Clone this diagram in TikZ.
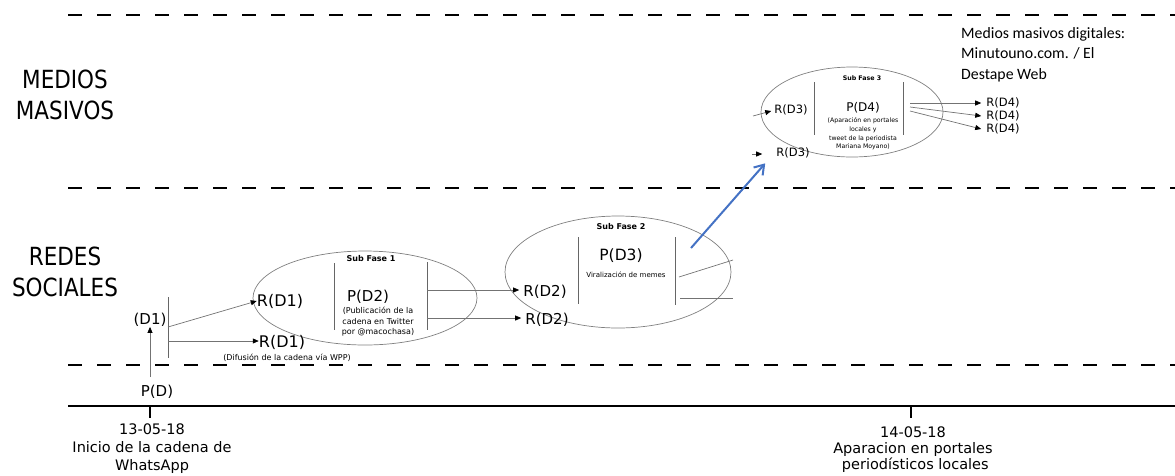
\documentclass[tikz,border=0pt]{standalone}
\usepackage{fontspec}
\setmainfont{DejaVu Sans}
\newfontfamily\condfont{DejaVu Sans}[FakeStretch=0.86]
\newfontfamily\calfont{Carlito}
\usetikzlibrary{arrows.meta,calc}
\definecolor{blueline}{HTML}{4472C4}
\begin{document}
\begin{tikzpicture}[x=1pt,y=-1pt,
  dashline/.style={line width=2.2pt, dash pattern=on 14pt off 15pt},
  timeline/.style={line width=1.8pt},
  thinline/.style={draw=black!55, line width=0.7pt},
  barline/.style={draw=black!60, line width=1pt},
  ell/.style={draw=black!50, line width=0.7pt},
  arr/.style={thinline, -{Triangle[length=6pt,width=5pt,color=black]}},
  big/.style={inner sep=0, align=center, font=\condfont\fontsize{25}{31}\selectfont},
  lbl/.style={inner sep=0, font=\fontsize{15}{17}\selectfont},
  lbls/.style={inner sep=0, font=\fontsize{11.5}{13}\selectfont},
  tiny/.style={inner sep=0, align=center, font=\fontsize{8}{10.5}\selectfont},
  phase/.style={inner sep=0, font=\bfseries\fontsize{8}{9}\selectfont},
  datelbl/.style={inner sep=0, align=center, font=\fontsize{14.5}{18}\selectfont},
]
\useasboundingbox (0,0) rectangle (1175,475);

% lanes
\draw[dashline] (68,15) -- (1175,15);
\draw[dashline] (68,188) -- (1175,188);
\draw[dashline] (68,365) -- (1175,365);
\draw[timeline] (68,406) -- (1175,406);
\draw[line width=1.4pt] (150,406) -- (150,418);
\draw[line width=1.4pt] (911,406) -- (911,418);

\node[big] (medios) at (65,95) {MEDIOS\\MASIVOS};
\node[big] (redes) at (65,272) {REDES\\SOCIALES};

% timeline labels
\node[datelbl] (d1) at (152,449) {13-05-18\\Inicio de la cadena de\\WhatsApp};
\node[datelbl, font=\fontsize{14.5}{16}\selectfont] (d2) at (913,450) {14-05-18\\Aparacion en portales\\\ periodísticos locales};

% start
\node[lbl] (pd) at (157,392) {P(D)};
\node[lbl] (d1n) at (150,320) {(D1)};
\coordinate (pdtop) at (150,377);
\draw[thinline, -{Triangle[length=6pt,width=5pt,color=black]}] (pdtop) -- (d1n.south -| pdtop);
\coordinate (b0t) at (168,297);
\coordinate (b0b) at (168,358);
\draw[barline] (b0t) -- (b0b);

% Sub fase 1
\draw[ell] (365,298) ellipse [x radius=112pt, y radius=47pt];
\node[phase] (sf1) at (371,259) {Sub Fase 1};
\node[lbl, font=\fontsize{16}{18}\selectfont] (rd1a) at (280,301) {R(D1)};
\node[lbl, font=\fontsize{16}{18}\selectfont] (rd1b) at (282,342) {R(D1)};
\node[tiny] (wpp) at (287,357.5) {(Difusión de la cadena vía WPP)};
\coordinate (b1at) at (334,263);
\coordinate (b1ab) at (334,330);
\coordinate (b1bt) at (427,262);
\coordinate (b1bb) at (427,330);
\draw[barline] (b1at) -- (b1ab);
\draw[barline] (b1bt) -- (b1bb);
\node[lbl] (pd2) at (368,297) {P(D2)};
\node[tiny] (pub) at (378,322) {(Publicación de la\\cadena en Twitter\\por @macochasa)};
\coordinate (s0a) at (168,327);
\coordinate (s0b) at (168,341);
\draw[arr] (s0a) -- (rd1a.west);
\draw[arr] (s0b) -- (rd1b.west |- s0b);

% Sub fase 2
\draw[ell] (618,272) ellipse [x radius=113pt, y radius=56pt];
\node[phase] (sf2) at (621,227) {Sub Fase 2};
\node[lbl] (rd2a) at (545,292) {R(D2)};
\node[lbl] (rd2b) at (547,320) {R(D2)};
\coordinate (s1a) at (427,290);
\coordinate (s1b) at (427,318);
\draw[arr] (s1a) -- ($(rd2a.west |- s1a)+(-4,0)$);
\draw[arr] (s1b) -- ($(rd2b.west |- s1b)+(-4,0)$);
\coordinate (b2at) at (578,237);
\coordinate (b2ab) at (578,304);
\coordinate (b2bt) at (675,237);
\coordinate (b2bb) at (675,305);
\draw[barline] (b2at) -- (b2ab);
\draw[barline] (b2bt) -- (b2bb);
\node[lbl, font=\fontsize{15.5}{17}\selectfont] (pd3) at (621,256) {P(D3)};
\node[tiny, font=\fontsize{7}{9}\selectfont] (viral) at (626,275) {Viralización de memes};
\coordinate (o2a) at (679,277);
\coordinate (o2ae) at (733,260);
\coordinate (o2b) at (680,298);
\coordinate (o2be) at (733,298);
\draw[thinline] (o2a) -- (o2ae);
\draw[thinline] (o2b) -- (o2be);

% Sub fase 3
\draw[ell] (852,112) ellipse [x radius=91pt, y radius=45pt];
\node[phase, font=\bfseries\fontsize{6.3}{8}\selectfont] (sf3) at (862,78) {Sub Fase 3};
\node[lbls] (rd3a) at (791,110) {R(D3)};
\node[lbls] (rd3b) at (793,153) {R(D3)};
\coordinate (in3a) at (753,116);
\coordinate (in3b) at (752,154);
\draw[arr] (in3a) -- ($(rd3a.west)+(-3,1)$);
\draw[arr] (in3b) -- ($(rd3b.west |- in3b)+(-14,0)$);
\coordinate (b3at) at (814,82);
\coordinate (b3ab) at (814,135);
\coordinate (b3bt) at (903,82);
\coordinate (b3bb) at (903,135);
\draw[barline] (b3at) -- (b3ab);
\draw[barline] (b3bt) -- (b3bb);
\node[lbls, font=\fontsize{12}{14}\selectfont] (pd4) at (863,108) {P(D4)};
\node[tiny, font=\fontsize{6.2}{8.7}\selectfont] (apar) at (863,134) {(Aparación en portales\\locales y\\tweet de la periodista\\Mariana Moyano)};
\node[lbls] (rd4a) at (1003,103) {R(D4)};
\node[lbls] (rd4b) at (1003,116) {R(D4)};
\node[lbls] (rd4c) at (1003,129) {R(D4)};
\coordinate (o3a) at (910,103);
\coordinate (o3b) at (910,107);
\coordinate (o3c) at (910,111);
\draw[arr] (o3a) -- ($(rd4a.west)+(-5,0)$);
\draw[arr] (o3b) -- ($(rd4b.west)+(-5,0)$);
\draw[arr] (o3c) -- ($(rd4c.west)+(-5,0)$);

\node[inner sep=0, align=left, anchor=north west, font=\calfont\fontsize{15.8}{20.5}\selectfont] (mmd) at (961,27) {Medios masivos digitales:\\Minutouno.com. / El\\Destape Web};

% blue arrow
\coordinate (bl0) at (691,248);
\draw[blueline, line width=2pt, -{Straight Barb[length=9pt,width=12pt]}] (bl0) -- ($(rd3b.south west)+(-11,5)$);
\end{tikzpicture}
\end{document}
